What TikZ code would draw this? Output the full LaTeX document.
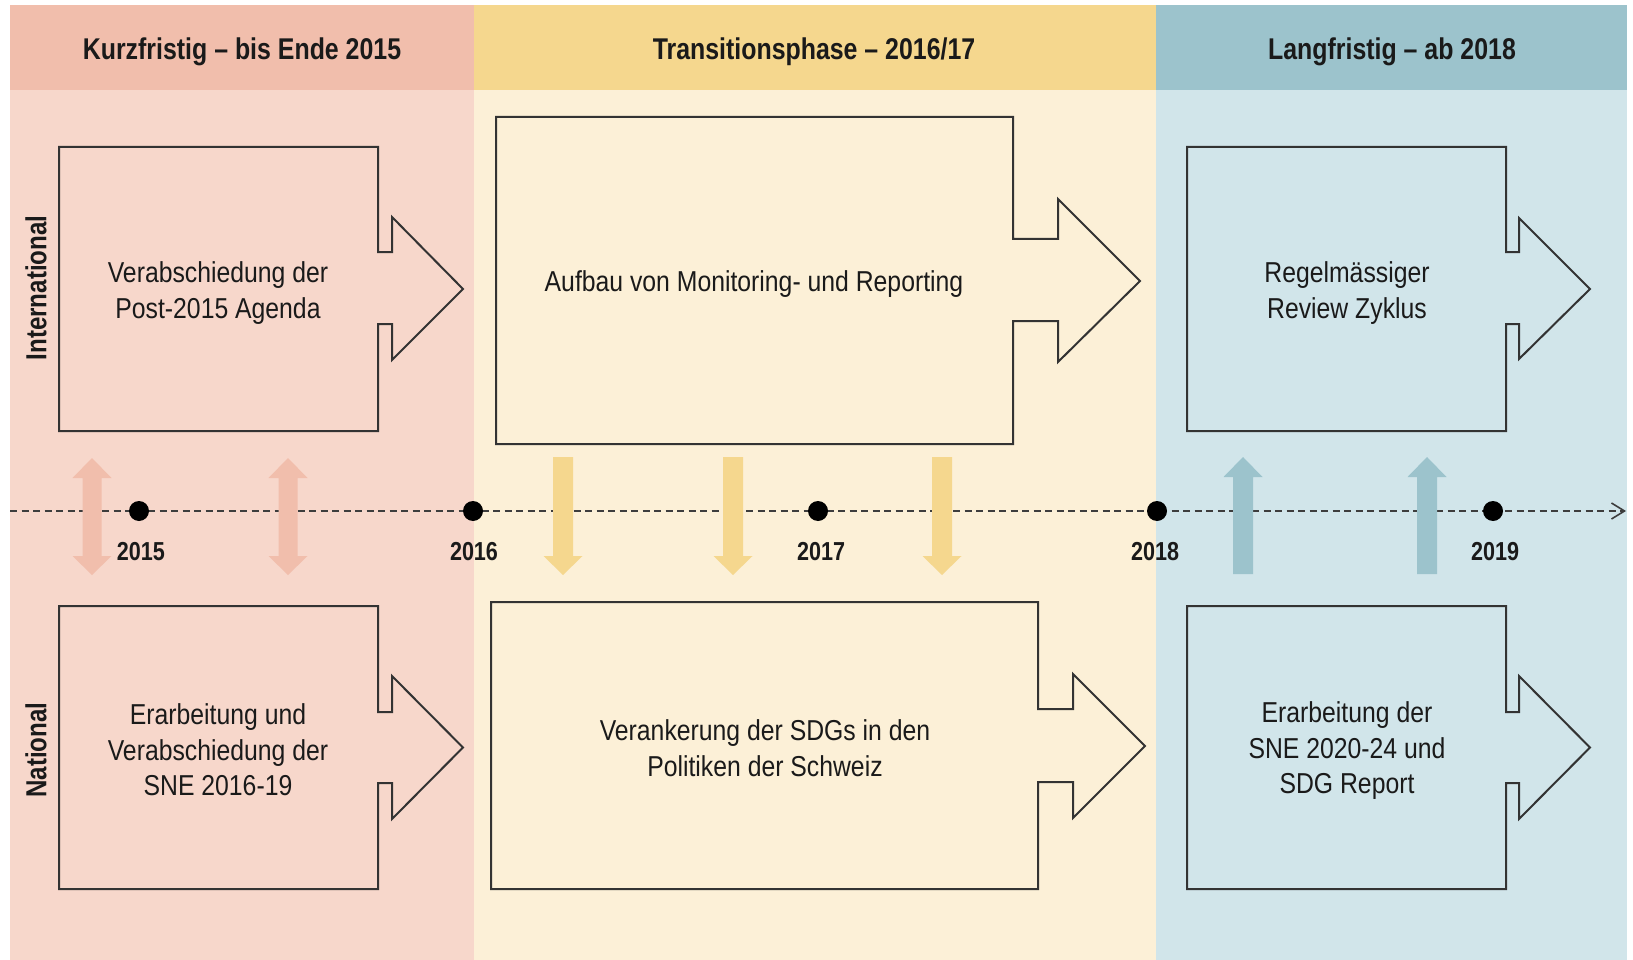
\documentclass[tikz,border=0pt]{standalone}
\usepackage{fontspec}
\setmainfont{Liberation Sans}
\newfontfamily\narrowfont[FakeStretch=0.83]{Liberation Sans}
\newfontfamily\bodyfont[FakeStretch=0.86]{Liberation Sans}
\usetikzlibrary{arrows.meta}
\definecolor{pinkH}{HTML}{F1BEAC}
\definecolor{pinkB}{HTML}{F7D7CB}
\definecolor{yelH}{HTML}{F5D78E}
\definecolor{yelB}{HTML}{FCF0D7}
\definecolor{bluH}{HTML}{9CC3CC}
\definecolor{bluB}{HTML}{D1E5EA}
\definecolor{ink}{HTML}{333333}
\definecolor{txt}{HTML}{1A1A1A}
\tikzset{
  hdr/.style={font=\narrowfont\bfseries\fontsize{30}{36}\selectfont, text=txt, inner sep=0pt},
  side/.style={font=\narrowfont\bfseries\fontsize{29}{34}\selectfont, text=txt, rotate=90, inner sep=0pt},
  body/.style={font=\bodyfont\fontsize{28.8}{35.5}\selectfont, text=txt, align=center, inner sep=0pt},
  year/.style={font=\narrowfont\bfseries\fontsize{26}{30}\selectfont, text=txt, inner sep=0pt},
  callout/.style={draw=ink, line width=2pt, line join=miter},
  timeline/.style={draw=ink!95, line width=2pt, dash pattern=on 7pt off 4.5pt, -{Straight Barb[length=13pt,width=16pt,line width=1.6pt]}},
  dot/.style={circle, fill=black, minimum size=20pt, inner sep=0pt},
  vpink/.style={fill=pinkH},
  vyel/.style={fill=yelH},
  vblu/.style={fill=bluH}
}
\newcommand\dblarr[1]{%
  \fill[vpink] (#1-9.5,478) -- (#1-19.5,478) -- (#1,458) -- (#1+19.5,478) -- (#1+9.5,478)
    -- (#1+9.5,556) -- (#1+19.5,556) -- (#1,575) -- (#1-19.5,556) -- (#1-9.5,556) -- cycle;}
\newcommand\downarr[1]{%
  \fill[vyel] (#1-10,457) -- (#1+10,457) -- (#1+10,556) -- (#1+19.5,556) -- (#1,575)
    -- (#1-19.5,556) -- (#1-10,556) -- cycle;}
\newcommand\uparr[1]{%
  \fill[vblu] (#1-10,574) -- (#1+10,574) -- (#1+10,477) -- (#1+19.5,477) -- (#1,457)
    -- (#1-19.5,477) -- (#1-10,477) -- cycle;}
\begin{document}
\begin{tikzpicture}[x=1pt,y=-1pt]
\useasboundingbox (0,0) rectangle (1633,960);
% column backgrounds
\fill[pinkB] (10,5) rectangle (474,960);
\fill[yelB] (474,5) rectangle (1156,960);
\fill[bluB] (1156,5) rectangle (1627,960);
\fill[pinkH] (10,5) rectangle (474,90);
\fill[yelH] (474,5) rectangle (1156,90);
\fill[bluH] (1156,5) rectangle (1627,90);
% headers
\node[hdr] (h1) at (242,52) {Kurzfristig – bis Ende 2015};
\node[hdr] (h2) at (814,52) {Transitionsphase – 2016/17};
\node[hdr] (h3) at (1392,52) {Langfristig – ab 2018};
% side labels
\node[side] (lint) at (36,288) {International};
\node[side] (lnat) at (36,750) {National};
% callout boxes
\draw[callout] (59,147) -- (378,147) -- (378,252) -- (392,252) -- (392,217) -- (463,289)
  -- (392,360) -- (392,324) -- (378,324) -- (378,431) -- (59,431) -- cycle;
\draw[callout] (496,117) -- (1013,117) -- (1013,239) -- (1058,239) -- (1058,199) -- (1140,281)
  -- (1058,362) -- (1058,321) -- (1013,321) -- (1013,444) -- (496,444) -- cycle;
\draw[callout] (1187,147) -- (1506,147) -- (1506,252) -- (1519,252) -- (1519,218) -- (1590,289)
  -- (1519,359) -- (1519,324) -- (1506,324) -- (1506,431) -- (1187,431) -- cycle;
\draw[callout] (59,606) -- (378,606) -- (378,712) -- (392,712) -- (392,676) -- (463,747.5)
  -- (392,819) -- (392,783) -- (378,783) -- (378,889) -- (59,889) -- cycle;
\draw[callout] (491,602) -- (1038,602) -- (1038,709) -- (1073,709) -- (1073,674) -- (1145,746)
  -- (1073,818) -- (1073,782) -- (1038,782) -- (1038,889) -- (491,889) -- cycle;
\draw[callout] (1187,606) -- (1506,606) -- (1506,712) -- (1519,712) -- (1519,676) -- (1590,747.5)
  -- (1519,819) -- (1519,783) -- (1506,783) -- (1506,889) -- (1187,889) -- cycle;
% box texts
\node[body] (t1) at (218,293) {Verabschiedung der\\Post-2015 Agenda};
\node[body] (t2) at (754,284) {Aufbau von Monitoring- und Reporting};
\node[body] (t3) at (1347,293) {Regelmässiger\\Review Zyklus};
\node[body] (t4) at (218,750) {Erarbeitung und\\Verabschiedung der\\SNE 2016-19};
\node[body] (t5) at (765,748) {Verankerung der SDGs in den\\Politiken der Schweiz};
\node[body] (t6) at (1347,751) {Erarbeitung der\\SNE 2020-24 und\\SDG Report};
% timeline
\coordinate (tl0) at (10,511);
\coordinate (tl1) at (1626,511);
\draw[timeline] (tl0) -- (tl1);
% vertical arrows
\dblarr{92}
\dblarr{288}
\downarr{563}
\downarr{733}
\downarr{942}
\uparr{1243}
\uparr{1427}
% dots
\node[dot] (d15) at (139,511) {};
\node[dot] (d16) at (473,511) {};
\node[dot] (d17) at (818,511) {};
\node[dot] (d18) at (1157,511) {};
\node[dot] (d19) at (1493,511) {};
% years
\node[year] (y15) at (141,552) {2015};
\node[year] (y16) at (474,552) {2016};
\node[year] (y17) at (821,552) {2017};
\node[year] (y18) at (1155,552) {2018};
\node[year] (y19) at (1495,552) {2019};
\end{tikzpicture}
\end{document}
